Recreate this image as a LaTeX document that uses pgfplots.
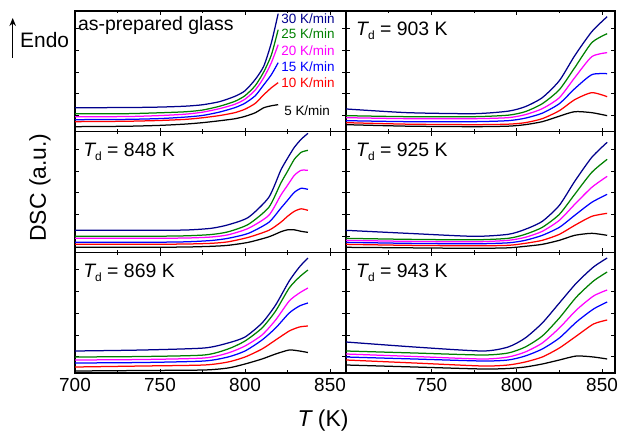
\documentclass[border=0pt]{standalone}
\usepackage{pgfplots}
\pgfplotsset{compat=1.18}
\usepackage{pgfplotstable}
\usetikzlibrary{arrows.meta}
\usepackage{fontspec}
\setmainfont{Liberation Sans}
\definecolor{cnavy}{rgb}{0,0,0.55}
\definecolor{cgreen}{rgb}{0,0.5,0}
\definecolor{cmag}{rgb}{1,0,1}
\definecolor{cblue}{rgb}{0,0,1}
\definecolor{cred}{rgb}{1,0,0}

% as-prepared glass
\pgfplotstableread{
T     k5   k10  k15  k20  k25  k30
700   5    10   12   15   18   24
730   5.4  10.4 12.3 15.1 18   24.1
750   6.3  11.2 13.1 16.1 18.9 24.6
765   7.6  12.3 14.6 17.5 19.9 25.5
775   9    13.9 16.2 19.5 21.6 26.9
785   10.9 16.1 19.6 23   25.4 30
794   12.9 19   24   27.4 30.3 35.3
800   15.3 22.5 28.5 32.5 36   40.9
806   18.9 28.3 35.9 41.6 46   52.2
811   23.9 36.9 46.8 53.9 59.7 65.4
815.5 25.9 43.9 57   69   76.7 88.9
819.5 27   49   69   87   102  118
}\tabTL
% Td = 903 K
\pgfplotstableread{
T     k5   k10  k15  k20  k25  k30
700   7    9    11   14   16   22.7
736   5.5  7.5  10   13   15   19
775   5    7    10   13   15   18
795   5.5  7.5  11   14   16.5 20.5
805   7    9    13.5 17   20   25
815   10   13   18.5 23   28   34
825   15.5 21   28   34   42   51
834   20   32   43   54   64   76
844   19   39   57   75   89   100
853   16   35   58   79   98   115
}\tabTR
% Td = 848 K
\pgfplotstableread{
T     k5   k10  k15  k20  k25  k30
700   5    8    10   14   16   22
740   5    8    10   14   16   22
765   5.3  8.3  10.5 14.3 16.5 22.3
780   6    9    11.8 15.3 17.8 24
790   7    10.5 14   17.5 20.5 27.5
802   10   15   19   24   28   35
814   15.5 22   30   37   45   55
821   20.5 30   44   57   69   82
825   22.5 36   52   67   81   94
829   22.5 41   60   77   93   105
833   21   43.5 64   82   100  113
837   20   42   63   82   102  119
}\tabML
% Td = 925 K
\pgfplotstableread{
T     k5   k10  k15  k20  k25  k30
700   5    8    10   12   14   22
736   4.5  7    9    11   13   19
775   4    6.5  8.5  10.5 12.5 16
795   4.5  7    9.5  12   14   18
805   6    9    12   15   18   23
815   8    12   17   21   25   31
825   12   18   25   32   38   47
834   17   27   37   48   58   71
844   19   36   50   65   80   95
853   17   39   58   76   93   110
}\tabMR
% Td = 869 K
\pgfplotstableread{
T     k5   k10  k15  k20  k25  k30
700   2    6    10   13   16   22
740   2.5  7    10.5 13.5 16.5 23
776   3    8    12   15   18   25
790   5    11   16   20   24   30
800   9    16   22   27   32   36
810   14   24   33   38   45   50
818   19   33   45   53   62   68
826   23   42   60   72   85   92
832   22   46   67   80   96   106
837   20.5 47   70   85   103  115
}\tabBL
% Td = 943 K
\pgfplotstableread{
T     k5   k10  k15  k20  k25  k30
700   8    13   16   19   22   31
740   6    10   14   16.5 20   26
780   4    7    12   14   18   22
795   4.5  8    13   16   20   26
805   6    11   17   21   26   35
815   9    16   24   30   37   50
825   13   25   35   45   55   70
835   17   37   51   63   76   90
845   16   49   64   77   92   106
853   14   53   71   83   101  115
}\tabBR

\newcommand{\sixcurves}[1]{%
  \addplot[black] table[x=T,y=k5]{#1};
  \addplot[cred] table[x=T,y=k10]{#1};
  \addplot[cblue] table[x=T,y=k15]{#1};
  \addplot[cmag] table[x=T,y=k20]{#1};
  \addplot[cgreen] table[x=T,y=k25]{#1};
  \addplot[cnavy] table[x=T,y=k30]{#1};
}
\newcommand{\Td}[1]{{\itshape T}\raisebox{-4bp}{\fontsize{12}{12}\selectfont d} = #1 K}

\tikzset{
  ptitle/.style={anchor=base west, inner sep=0pt, font=\fontsize{19.5}{20}\selectfont},
  rate/.style={anchor=base west, inner sep=0pt, font=\fontsize{13.5}{14}\selectfont},
}
\pgfplotsset{
  panel/.style={
    scale only axis, height=120.67bp,
    xmin=700, ymin=0, ymax=120.67,
    xtick={700,750,800,850}, minor xtick={725,775,825},
    ytick={16.3,38,59.7,81.4,103.1}, yticklabels={},
    xticklabels={},
    tick align=inside, major tick length=4bp, minor tick length=2.5bp,
    axis line style={line width=1.1bp},
    every tick/.style={black, line width=0.8bp},
    tick label style={font=\fontsize{19}{20}\selectfont},
    xticklabel style={yshift=-1.5bp},
    /pgf/number format/assume math mode=true,
    every axis plot/.append style={line width=1.25bp, smooth, tension=0.4, no marks},
  },
  leftcol/.style={panel, width=271bp, xmax=859.4},
  rightcol/.style={panel, width=269bp, xmax=857.6},
}

\begin{document}
\begin{tikzpicture}
\path[use as bounding box] (0,0) rectangle (620bp,432bp);

% top left
\begin{axis}[leftcol, at={(75bp,300.33bp)}, anchor=south west]
\sixcurves{\tabTL}
\node[ptitle] at (rel axis cs:0.011,0.835) {as-prepared glass};
\node[rate, text=cnavy] at (axis cs:821.3,108) {30 K/min};
\node[rate, text=cgreen] at (axis cs:821.3,93) {25 K/min};
\node[rate, text=cmag] at (axis cs:821.3,76) {20 K/min};
\node[rate, text=cblue] at (axis cs:821.3,60) {15 K/min};
\node[rate, text=cred] at (axis cs:821.3,44) {10 K/min};
\node[rate, text=black] at (axis cs:823,16) {5 K/min};
\end{axis}

% top right
\begin{axis}[rightcol, at={(346bp,300.33bp)}, anchor=south west]
\sixcurves{\tabTR}
\node[ptitle] at (rel axis cs:0.037,0.80) {\Td{903}};
\end{axis}

% middle left
\begin{axis}[leftcol, at={(75bp,179.67bp)}, anchor=south west]
\sixcurves{\tabML}
\node[ptitle] at (rel axis cs:0.03,0.795) {\Td{848}};
\end{axis}

% middle right
\begin{axis}[rightcol, at={(346bp,179.67bp)}, anchor=south west]
\sixcurves{\tabMR}
\node[ptitle] at (rel axis cs:0.037,0.795) {\Td{925}};
\end{axis}

% bottom left
\begin{axis}[leftcol, at={(75bp,59bp)}, anchor=south west,
  xticklabels={700,750,800,850}]
\sixcurves{\tabBL}
\node[ptitle] at (rel axis cs:0.03,0.795) {\Td{869}};
\end{axis}

% bottom right
\begin{axis}[rightcol, at={(346bp,59bp)}, anchor=south west,
  xticklabels={,750,800,850}]
\sixcurves{\tabBR}
\node[ptitle] at (rel axis cs:0.037,0.795) {\Td{943}};
\end{axis}

% labels
\node[rotate=90, font=\fontsize{23}{24}\selectfont] at (40bp,244.5bp) {DSC (a.u.)};
\node[anchor=base, inner sep=0pt, font=\fontsize{23}{24}\selectfont] at (323bp,6bp) {{\itshape T} (K)};
\node[anchor=base west, inner sep=0pt, font=\fontsize{21}{22}\selectfont] at (20bp,384.5bp) {Endo};
\draw[line width=1.5bp, -{Stealth[length=8bp,width=6.5bp]}] (12.7bp,374bp) -- (12.7bp,414bp);
\end{tikzpicture}
\end{document}
